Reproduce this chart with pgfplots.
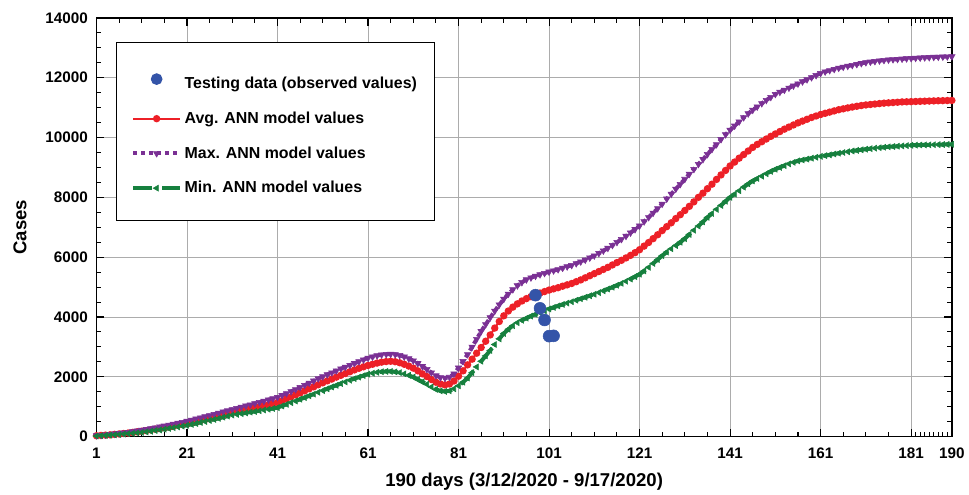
\documentclass[border=0pt]{standalone}
\usepackage{fontspec}
\setmainfont{Liberation Sans}
\usepackage{pgfplots}
\usepackage{pgfplotstable}
\pgfplotsset{compat=1.18}

\definecolor{avgred}{RGB}{237,32,39}
\definecolor{maxpurple}{RGB}{122,48,148}
\definecolor{mingreen}{RGB}{22,128,62}
\definecolor{testblue}{RGB}{52,84,168}

% day, avg, max, min (ANN model values)
\pgfplotstableread{
day avg max min
1 30 40 20
2 40 50 30
3 50 65 40
4 60 80 50
5 75 95 60
6 90 110 70
7 105 130 85
8 120 150 100
9 140 170 110
10 160 195 125
11 180 220 140
12 200 245 160
13 225 275 180
14 250 300 205
15 275 330 225
16 300 360 250
17 325 390 275
18 355 420 300
19 380 455 325
20 410 485 350
21 440 520 380
22 470 555 410
23 505 595 440
24 540 630 475
25 575 670 505
26 610 710 540
27 645 750 575
28 680 790 610
29 720 830 650
30 760 870 685
31 800 910 720
32 835 950 745
33 870 990 770
34 900 1030 795
35 935 1070 820
36 970 1110 840
37 1000 1150 865
38 1035 1190 890
39 1070 1235 915
40 1105 1275 940
41 1140 1320 970
42 1200 1380 1025
43 1265 1445 1080
44 1330 1510 1135
45 1395 1580 1190
46 1460 1650 1250
47 1530 1720 1305
48 1600 1795 1365
49 1665 1865 1420
50 1735 1940 1480
51 1800 2010 1540
52 1865 2075 1600
53 1925 2140 1660
54 1990 2205 1715
55 2050 2270 1775
56 2110 2330 1830
57 2170 2390 1885
58 2230 2450 1940
59 2285 2510 1990
60 2335 2570 2040
61 2380 2630 2090
62 2420 2670 2120
63 2460 2710 2150
64 2490 2740 2170
65 2510 2755 2180
66 2520 2760 2180
67 2505 2750 2165
68 2470 2720 2140
69 2420 2670 2100
70 2360 2610 2050
71 2290 2540 1990
72 2200 2450 1910
73 2100 2350 1830
74 2010 2250 1750
75 1910 2140 1660
76 1820 2040 1580
77 1760 1980 1530
78 1730 1960 1510
79 1760 1990 1530
80 1860 2100 1600
81 2020 2300 1700
82 2200 2520 1820
83 2400 2750 1960
84 2590 3000 2140
85 2790 3260 2330
86 2980 3520 2520
87 3190 3750 2700
88 3400 3980 2880
89 3630 4200 3080
90 3850 4410 3270
91 4040 4600 3450
92 4200 4770 3590
93 4330 4920 3710
94 4440 5050 3810
95 4535 5160 3890
96 4615 5250 3960
97 4680 5315 4030
98 4740 5370 4090
99 4800 5420 4150
100 4850 5465 4210
101 4900 5510 4270
102 4940 5550 4320
103 4980 5590 4370
104 5030 5640 4420
105 5075 5685 4465
106 5120 5730 4510
107 5180 5790 4560
108 5240 5850 4610
109 5310 5910 4660
110 5380 5980 4710
111 5450 6050 4760
112 5520 6130 4815
113 5590 6215 4875
114 5660 6305 4935
115 5740 6400 4995
116 5820 6500 5060
117 5895 6600 5125
118 5975 6705 5195
119 6060 6815 5270
120 6150 6930 5350
121 6250 7050 5430
122 6370 7190 5540
123 6490 7330 5660
124 6620 7480 5790
125 6750 7630 5920
126 6890 7780 6050
127 7020 7950 6170
128 7150 8110 6280
129 7290 8280 6390
130 7420 8440 6500
131 7560 8610 6620
132 7700 8780 6760
133 7850 8940 6900
134 8000 9110 7040
135 8140 9270 7180
136 8290 9440 7330
137 8440 9610 7460
138 8600 9770 7600
139 8750 9940 7730
140 8900 10100 7870
141 9050 10250 8000
142 9180 10390 8110
143 9310 10530 8220
144 9430 10670 8340
145 9550 10800 8450
146 9670 10920 8550
147 9770 11030 8630
148 9860 11140 8710
149 9950 11250 8790
150 10040 11350 8870
151 10120 11450 8940
152 10200 11520 9000
153 10280 11590 9060
154 10350 11660 9120
155 10420 11730 9170
156 10490 11800 9220
157 10550 11870 9250
158 10610 11940 9280
159 10670 12010 9310
160 10720 12080 9340
161 10770 12150 9370
162 10810 12200 9395
163 10850 12245 9420
164 10890 12285 9450
165 10930 12325 9475
166 10960 12360 9500
167 10990 12390 9525
168 11020 12420 9550
169 11045 12450 9570
170 11070 12480 9590
171 11090 12510 9610
172 11105 12530 9628
173 11120 12550 9645
174 11135 12570 9660
175 11150 12585 9675
176 11160 12600 9690
177 11170 12610 9700
178 11180 12620 9710
179 11190 12630 9720
180 11195 12640 9730
181 11200 12650 9740
182 11205 12658 9745
183 11210 12666 9750
184 11215 12674 9753
185 11220 12682 9756
186 11225 12690 9760
187 11230 12695 9763
188 11233 12700 9766
189 11237 12705 9770
190 11240 12710 9775
}\modeldata

% testing data (observed values)
\pgfplotstableread{
day cases
98 4730
99 4290
100 3900
101 3360
102 3370
}\testdata

\begin{document}
\begin{tikzpicture}
\begin{axis}[
    scale only axis,
    width=645pt, height=315.75pt,
    xmin=1, xmax=190,
    ymin=0, ymax=14000,
    xtick={1,21,41,61,81,101,121,141,161,181,190},
    minor xtick={6,11,16,26,31,36,46,51,56,66,71,76,86,91,96,106,111,116,126,131,136,146,151,156,166,171,176,182,183,184,185,186,187,188,189},
    ytick={0,2000,4000,6000,8000,10000,12000,14000},
    minor y tick num=3,
    grid=major,
    major grid style={gray!65, line width=0.7pt},
    axis line style={line width=1.1pt},
    tick style={black, line width=0.8pt},
    major tick length=6pt,
    minor tick length=3.5pt,
    scaled y ticks=false,
    /pgf/number format/1000 sep={},
    /pgf/number format/assume math mode=true,
    tick label style={font=\fontsize{11.5}{13}\selectfont\bfseries},
    xticklabel style={yshift=-5pt},
    yticklabel style={xshift=-3pt},
    xlabel={190 days (3/12/2020 - 9/17/2020)},
    ylabel={Cases},
    every axis x label/.style={at={(axis description cs:0.5,0)}, anchor=center,
        yshift=-33.75pt, font=\fontsize{14}{16}\selectfont\bfseries},
    every axis y label/.style={at={(axis description cs:0,0.5)}, xshift=-57.75pt,
        rotate=90, anchor=center, font=\fontsize{14}{16}\selectfont\bfseries},
    legend cell align=left,
    legend image code/.code={\draw[mark repeat=2,mark phase=2] plot coordinates {(0cm,0cm) (0.62cm,0cm) (1.24cm,0cm)};},
    legend style={at={(0.023,0.943)}, anchor=north west,
        font=\fontsize{12}{14}\selectfont\bfseries,
        draw=black, line width=0.8pt,
        inner xsep=11pt, inner ysep=17pt, row sep=12pt},
]

\addlegendimage{only marks, mark=*, mark size=4pt, color=testblue}
\addlegendentry{\rule{0pt}{16pt}Testing data (observed values)}

\addplot[color=avgred, line width=1.5pt, mark=*, mark size=2pt]
    table[x=day, y=avg] {\modeldata};
\addlegendentry{Avg. ANN model values}

\addplot[color=maxpurple, line width=3pt, dash pattern=on 3pt off 3pt,
    mark=triangle*, mark size=2.8pt, mark options={solid, line width=0.4pt, rotate=180}]
    table[x=day, y=max] {\modeldata};
\addlegendentry{Max. ANN model values}

\addplot[color=mingreen, line width=3pt, dash pattern=on 14pt off 8pt,
    mark=triangle*, mark size=2.6pt, mark options={solid, line width=0.4pt, rotate=90}]
    table[x=day, y=min] {\modeldata};
\addlegendentry{Min. ANN model values}

\addplot[forget plot, only marks, mark=*, mark size=4.5pt, color=testblue]
    table[x=day, y=cases] {\testdata};

\end{axis}
\path ([xshift=-72.75pt,yshift=-41.25pt]current axis.south west)
      ([xshift=9pt,yshift=13.5pt]current axis.north east);
\end{tikzpicture}
\end{document}
